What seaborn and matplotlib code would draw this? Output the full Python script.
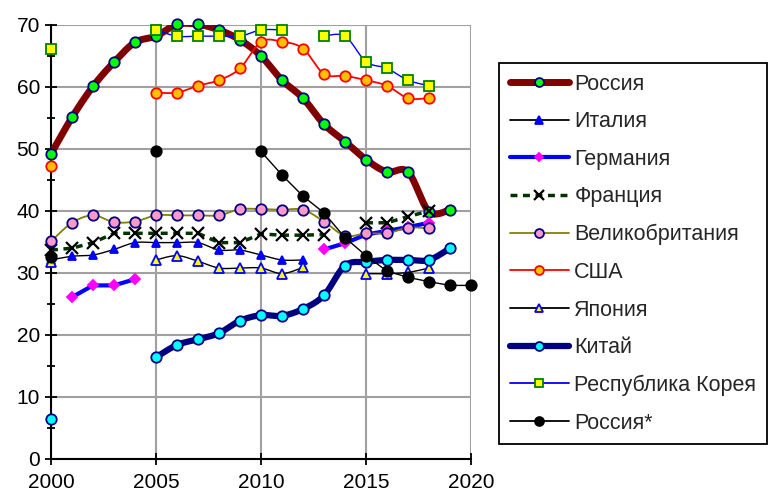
import numpy as np
import matplotlib
matplotlib.use("Agg")
import matplotlib.pyplot as plt
from matplotlib.lines import Line2D
from matplotlib.ticker import MultipleLocator
import seaborn as sns

nan = np.nan
years = list(range(2000, 2021))

# values (nan = no data)
russia = [49.2, 55.1, 60.1, 64.0, 67.2, 68.2, 70.1, 70.1, 69.2, 67.6, 65.0,
          61.1, 58.2, 54.0, 51.2, 48.3, 46.3, 46.3, 39.9, 40.2, nan]
italy = [32.1, 32.7, 32.9, 33.8, 34.9, 34.9, 34.9, 34.9, 33.7, 33.7, 32.9,
         32.1, 32.1, nan, nan, nan, nan, nan, nan, nan, nan]
germany = [nan, 26.1, 28.0, 28.0, 29.0, nan, nan, nan, nan, nan, nan,
           nan, nan, 33.8, 34.8, 36.2, 36.8, 37.4, 38.1, nan, nan]
france = [33.7, 34.0, 34.9, 36.4, 36.4, 36.4, 36.4, 36.4, 34.9, 34.9, 36.3,
          36.1, 36.1, 36.2, nan, 38.1, 38.1, 39.1, 40.0, nan, nan]
britain = [35.1, 38.1, 39.3, 38.2, 38.3, 39.3, 39.3, 39.3, 39.3, 40.3, 40.3,
           40.2, 40.2, 38.3, 36.0, 36.4, 36.4, 37.3, 37.2, nan, nan]
usa = [47.3, nan, nan, nan, nan, 59.1, 59.1, 60.2, 61.1, 63.0, 67.3,
       67.3, 66.2, 62.1, 61.8, 61.1, 60.2, 58.2, 58.2, nan, nan]
japan = [31.7, nan, nan, nan, nan, 32.1, 32.8, 31.9, 30.8, 30.8, 30.8,
         29.9, 30.9, nan, nan, 29.9, 29.9, 30.1, 30.8, nan, nan]
china = [6.4, nan, nan, nan, nan, 16.4, 18.4, 19.3, 20.3, 22.3, 23.2,
         23.1, 24.2, 26.4, 31.2, 31.8, 32.1, 32.1, 32.1, 34.0, nan]
korea = [66.2, nan, nan, nan, nan, 69.2, 68.2, 68.2, 68.2, 68.2, 69.2,
         69.2, nan, 68.2, 68.2, 64.1, 63.0, 61.1, 60.2, nan, nan]
russia_star = [32.6, nan, nan, nan, nan, 49.6, nan, nan, nan, nan, 49.6,
               45.8, 42.4, 39.7, 35.7, 32.8, 30.3, 29.3, 28.6, 28.0, 28.0]

# name, values, line colour, line width, dashed, marker, face, edge, size, smooth
series = [
    ("Россия", russia, "#800000", 5.0, False, "o", "#00FF00", "#000080", 7.5, True),
    ("Италия", italy, "black", 1.0, False, "^", "#0000FF", "#0000FF", 6.0, True),
    ("Германия", germany, "#0000FF", 3.0, False, "D", "#FF00FF", "#FF00FF", 5.0, False),
    ("Франция", france, "#003300", 2.5, True, "x", "black", "black", 8.0, False),
    ("Великобритания", britain, "#808000", 1.3, False, "o", "#FF99CC", "#000080", 7.5, True),
    ("США", usa, "#FF0000", 1.3, False, "o", "#FFC000", "#FF0000", 7.5, True),
    ("Япония", japan, "black", 1.0, False, "^", "#FFFF00", "#0000FF", 7.5, True),
    ("Китай", china, "#000080", 4.5, False, "o", "#00FFFF", "#000080", 7.5, True),
    ("Республика Корея", korea, "#0000FF", 1.0, False, "s", "#FFFF00", "#008000", 7.5, True),
    ("Россия*", russia_star, "black", 1.0, False, "o", "black", "black", 7.5, False),
]


def runs(xs, ys):
    """Split a series into contiguous runs without gaps."""
    out, cur = [], []
    for x, y in zip(xs, ys):
        if np.isnan(y):
            if cur:
                out.append(cur)
            cur = []
        else:
            cur.append((x, y))
    if cur:
        out.append(cur)
    return out


def smooth(pts, steps=20):
    """Excel-like smoothed line (Catmull-Rom through the points)."""
    p = np.array(pts, dtype=float)
    if len(p) < 3:
        return p[:, 0], p[:, 1]
    ext = np.vstack([p[0], p, p[-1]])
    t = np.linspace(0, 1, steps)[:, None]
    parts = []
    for i in range(1, len(ext) - 2):
        p0, p1, p2, p3 = ext[i - 1], ext[i], ext[i + 1], ext[i + 2]
        c = 0.5 * ((2 * p1) + (-p0 + p2) * t + (2 * p0 - 5 * p1 + 4 * p2 - p3) * t ** 2
                   + (-p0 + 3 * p1 - 3 * p2 + p3) * t ** 3)
        parts.append(c if i == 1 else c[1:])
    c = np.vstack(parts)
    return c[:, 0], c[:, 1]


sns.set_theme(style="white")
plt.rcParams["font.family"] = ["Liberation Sans", "DejaVu Sans"]

fig = plt.figure(figsize=(7.7, 4.92), dpi=100)
ax = fig.add_axes([51 / 770, 1 - 459 / 492, 420 / 770, 434 / 492])

handles = []
for i, (name, vals, lc, lw, dashed, mk, mfc, mec, ms, sm) in enumerate(series):
    z = 3 + i
    for run in runs(years, vals):
        if len(run) < 2:
            continue
        if sm:
            sx, sy = smooth(run)
        else:
            sx, sy = np.array(run)[:, 0], np.array(run)[:, 1]
        kw = dict(dashes=(2, 1.6)) if dashed else {}
        sns.lineplot(x=sx, y=sy, sort=False, estimator=None, color=lc, linewidth=lw,
                     ax=ax, legend=False, zorder=z, **kw)
    mew = 1.6 if mk == "x" else 1.3
    ax.plot(years, vals, linestyle="none", marker=mk, markerfacecolor=mfc,
            markeredgecolor=mec, markersize=ms, markeredgewidth=mew,
            clip_on=False, zorder=z + 0.5)
    handles.append(Line2D([], [], color=lc, linewidth=max(lw, 1.3),
                          linestyle=(0, (2, 1.6)) if dashed else "-", marker=mk,
                          markerfacecolor=mfc, markeredgecolor=mec,
                          markersize=ms * 0.85, markeredgewidth=mew))

ax.set_xlim(2000, 2020)
ax.set_ylim(0, 70)
ax.xaxis.set_major_locator(MultipleLocator(5))
ax.yaxis.set_major_locator(MultipleLocator(10))
ax.yaxis.set_minor_locator(MultipleLocator(5))
ax.grid(True, which="major", color="#A0A0A0", linewidth=1.5)
ax.set_axisbelow(True)
for s in ("top", "right"):
    ax.spines[s].set_visible(False)
for s in ("left", "bottom"):
    ax.spines[s].set_color("black")
    ax.spines[s].set_linewidth(1.5)
    ax.spines[s].set_zorder(2.5)
ax.tick_params(which="major", bottom=True, left=True, direction="inout", length=8,
               width=1.3, color="black", labelsize=15, pad=4, labelcolor="black")
ax.tick_params(axis="x", which="major", pad=6)
ax.tick_params(which="minor", left=True, direction="inout", length=6, width=1.3,
               color="black")
ax.set_xlabel("")
ax.set_ylabel("")

leg = fig.legend(handles, [s[0] for s in series], loc="upper left",
                 bbox_to_anchor=(499 / 770, 1 - 63 / 492), frameon=True,
                 fancybox=False, edgecolor="black", framealpha=1, fontsize=15.5,
                 borderpad=0.5, labelspacing=0.77, handlelength=2.75,
                 handletextpad=0.25, borderaxespad=0)
leg.get_frame().set_linewidth(1.3)

fig.savefig("out.png", dpi=100)
